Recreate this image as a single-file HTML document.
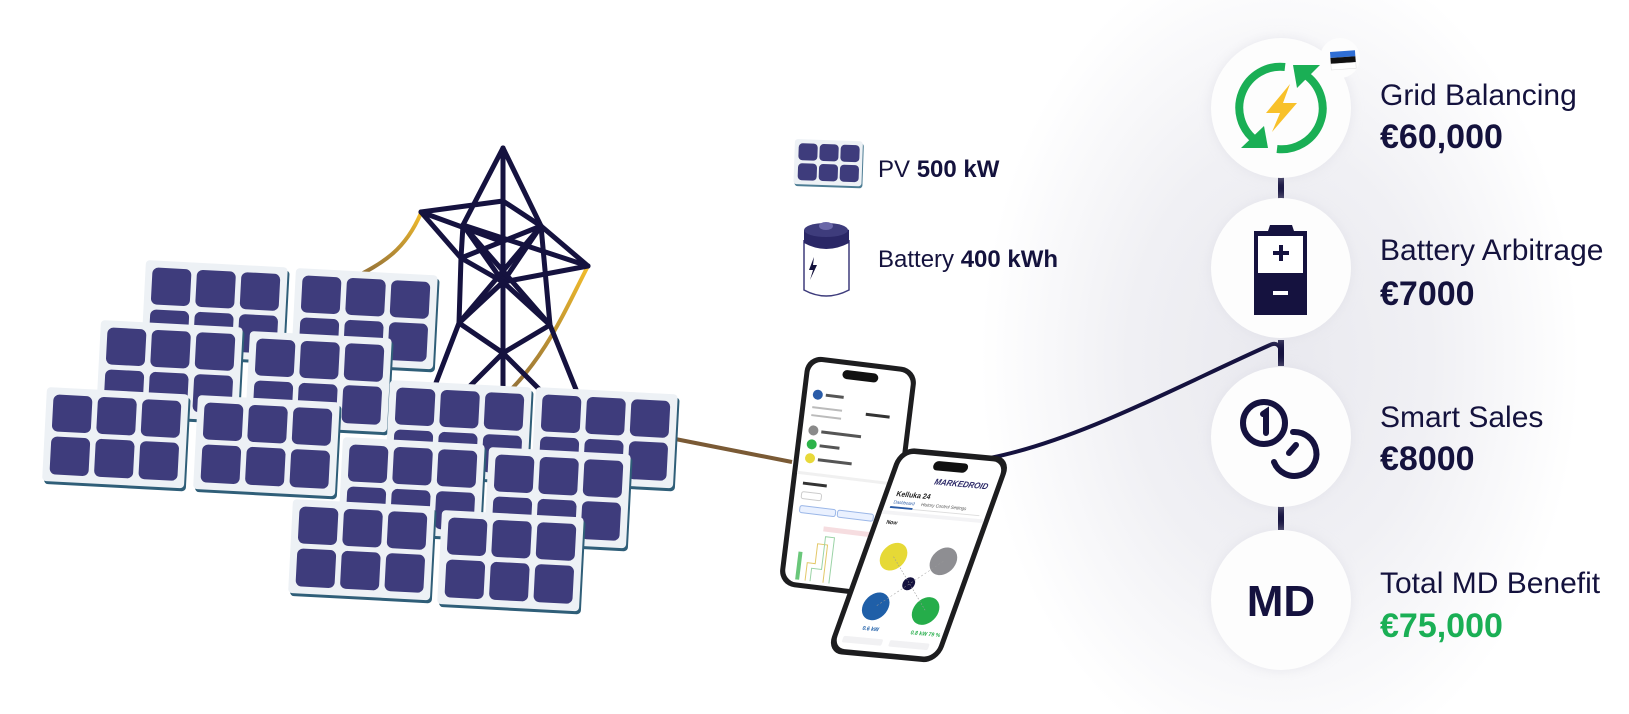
<!DOCTYPE html>
<html><head><meta charset="utf-8"><style>
html,body{margin:0;padding:0;background:#fff;}
body{width:1629px;height:714px;overflow:hidden;position:relative;font-family:"Liberation Sans",sans-serif;}
svg{position:absolute;left:0;top:0;}
</style></head><body>
<svg width="1629" height="714" viewBox="0 0 1629 714" xmlns="http://www.w3.org/2000/svg">
<defs>
<radialGradient id="glow" cx="1280" cy="360" r="300" gradientUnits="userSpaceOnUse" gradientTransform="translate(1280 360) scale(1 1.4) translate(-1280 -360)">
<stop offset="0" stop-color="#e9e9ef"/><stop offset="0.5" stop-color="#f0f0f4"/><stop offset="1" stop-color="#ffffff"/>
</radialGradient>
<linearGradient id="gold" x1="0" y1="0" x2="0" y2="1"><stop offset="0" stop-color="#f3bd2b"/><stop offset="1" stop-color="#8c6b3a"/></linearGradient>
<filter id="sh" x="-30%" y="-30%" width="160%" height="160%"><feGaussianBlur stdDeviation="6"/></filter>
<g id="panel">
<rect x="2" y="3" width="142" height="94" rx="4" fill="#2f5e78"/>
<rect x="0" y="0" width="142" height="94" rx="4" fill="#edf1f5"/>
<rect x="7" y="7" width="39" height="37" rx="6" fill="#3e3c7c"/>
<rect x="51.5" y="7" width="39" height="37" rx="6" fill="#3e3c7c"/>
<rect x="96" y="7" width="39" height="37" rx="6" fill="#3e3c7c"/>
<rect x="7" y="49" width="39" height="38" rx="6" fill="#3e3c7c"/>
<rect x="51.5" y="49" width="39" height="38" rx="6" fill="#3e3c7c"/>
<rect x="96" y="49" width="39" height="38" rx="6" fill="#3e3c7c"/>
</g>
</defs>

<rect x="900" y="0" width="729" height="714" fill="url(#glow)"/>

<!-- wires -->
<path d="M421 213 C405 250 385 262 350 280" stroke="url(#gold)" stroke-width="4" fill="none"/>
<path d="M588 266 C565 310 545 360 500 400" stroke="url(#gold)" stroke-width="4" fill="none"/>
<path d="M660 436 L792 462" stroke="#7a5a35" stroke-width="4" fill="none"/>
<path d="M990 458 C1080 440 1180 385 1270 345 C1276 342 1280 345 1281 352" stroke="#15123f" stroke-width="4" fill="none"/>

<!-- tower -->
<g stroke="#15123f" stroke-width="5" fill="none" stroke-linejoin="round" stroke-linecap="round">
<path d="M503 148 L463 225 L461 258 L459 323 L434 388"/>
<path d="M503 148 L541 226 L550 325 L577 392"/>
<path d="M503 148 L503 392"/>
<path d="M421 212 L503 201 L541 226 L588 266"/>
<path d="M421 212 L461 258"/>
<path d="M421 212 L503 242"/>
<path d="M463 225 L503 282 L541 226"/>
<path d="M461 258 L541 226"/>
<path d="M463 225 L588 266"/>
<path d="M461 258 L503 282 L588 266"/>
<path d="M459 323 L503 282 L550 325"/>
<path d="M541 226 L459 323"/>
<path d="M463 225 L550 325"/>
<path d="M459 323 L503 353 L550 325"/>
<path d="M503 353 L466 390"/>
<path d="M503 353 L542 392"/>
</g>

<!-- panels -->
<use href="#panel" transform="translate(146 260) rotate(3)"/>
<use href="#panel" transform="translate(296 268) rotate(3)"/>
<use href="#panel" transform="translate(101 320) rotate(3)"/>
<use href="#panel" transform="translate(250 331) rotate(3)"/>
<use href="#panel" transform="translate(47 387) rotate(3)"/>
<use href="#panel" transform="translate(198 395) rotate(3)"/>
<use href="#panel" transform="translate(390 380) rotate(3)"/>
<use href="#panel" transform="translate(536 387) rotate(3)"/>
<use href="#panel" transform="translate(343 437) rotate(3)"/>
<use href="#panel" transform="translate(489 447) rotate(3)"/>
<use href="#panel" transform="translate(293 499) rotate(3)"/>
<use href="#panel" transform="translate(442 510) rotate(3)"/>

<!-- PV / Battery legend -->
<g transform="translate(795 139) rotate(2)">
<rect x="1" y="2" width="68" height="45" rx="3" fill="#4d7d94"/>
<rect x="0" y="0" width="68" height="45" rx="3" fill="#edf1f5"/>
<rect x="4" y="4" width="19" height="17" rx="4" fill="#3e3c7c"/><rect x="25" y="4" width="19" height="17" rx="4" fill="#3e3c7c"/><rect x="46" y="4" width="19" height="17" rx="4" fill="#3e3c7c"/>
<rect x="4" y="24" width="19" height="17" rx="4" fill="#3e3c7c"/><rect x="25" y="24" width="19" height="17" rx="4" fill="#3e3c7c"/><rect x="46" y="24" width="19" height="17" rx="4" fill="#3e3c7c"/>
</g>
<text x="878" y="177" font-size="24" fill="#14123d" font-family="Liberation Sans, sans-serif">PV <tspan font-weight="bold">500 kW</tspan></text>
<g>
<path d="M804 240 L804 290 Q826 302 849 290 L849 240" fill="#fff" stroke="#3e3c7c" stroke-width="1.5"/>
<path d="M804 230 Q826 218 849 230 L849 243 Q826 255 804 243 Z" fill="#2a2766"/>
<ellipse cx="826" cy="230" rx="22" ry="7" fill="#3e3c7c"/>
<ellipse cx="826" cy="226" rx="7" ry="4" fill="#6a67a8"/>
<path d="M814 257 L809 270 L813 270 L810 280 L817 265 L813 265 Z" fill="#14123d"/>
</g>
<text x="878" y="267" font-size="24" fill="#14123d" font-family="Liberation Sans, sans-serif">Battery <tspan font-weight="bold">400 kWh</tspan></text>

<!-- back phone -->
<g transform="translate(848 477) rotate(7)">
<rect x="-56" y="-116" width="112" height="232" rx="16" fill="#1d1d1f"/>
<rect x="-51" y="-111" width="102" height="222" rx="12" fill="#fff"/>
<rect x="-18" y="-106" width="36" height="9" rx="4.5" fill="#111"/>
<circle cx="-40" cy="-78" r="5" fill="#2a5ca8"/><rect x="-32" y="-80" width="18" height="3" fill="#555"/>
<rect x="-44" y="-66" width="30" height="2" fill="#bbb"/><rect x="10" y="-66" width="24" height="3" fill="#333"/>
<rect x="-44" y="-58" width="30" height="2" fill="#bbb"/>
<circle cx="-40" cy="-42" r="5" fill="#8a8a8a"/><rect x="-32" y="-43" width="40" height="3" fill="#555"/>
<circle cx="-40" cy="-28" r="5" fill="#2db34a"/><rect x="-32" y="-29" width="20" height="3" fill="#555"/>
<circle cx="-40" cy="-14" r="5" fill="#e8d93a"/><rect x="-32" y="-15" width="34" height="3" fill="#555"/>
<rect x="-51" y="0" width="102" height="3" fill="#f0f0f0"/>
<rect x="-44" y="10" width="24" height="3" fill="#333"/>
<rect x="-44" y="20" width="20" height="7" rx="2" fill="#fff" stroke="#ccc"/>
<rect x="-44" y="34" width="36" height="7" rx="2" fill="#eaf1ff" stroke="#9bb7e8"/>
<rect x="-6" y="34" width="36" height="7" rx="2" fill="#eaf1ff" stroke="#9bb7e8"/>
<rect x="-18" y="52" width="60" height="5" fill="#f6dde0"/>
<rect x="-40" y="80" width="4" height="28" fill="#6ac77a"/>
<path d="M-30 108 L-30 90 L-22 90 L-22 70 L-12 70 L-12 108" stroke="#e3c868" fill="none"/>
<path d="M-25 108 L-25 95 L-15 95 L-15 62 L-6 62 L-6 108" stroke="#9bd3a6" fill="none"/>
</g>

<!-- front phone (skewed) -->
<g transform="matrix(0.86 0.08 -0.33 0.92 900 447)">
<g transform="translate(65 112)">
<rect x="-65" y="-112" width="130" height="224" rx="18" fill="#1d1d1f"/>
<rect x="-59" y="-106" width="118" height="212" rx="13" fill="#fff"/>
<rect x="-20" y="-101" width="40" height="10" rx="5" fill="#111"/>
<text x="50" y="-76" font-size="9" font-weight="bold" fill="#2a2766" text-anchor="end" font-style="italic">MARKEDROID</text>
<text x="-50" y="-60" font-size="8" font-weight="bold" fill="#222">Kelluka 24</text>
<rect x="-52" y="-48" width="104" height="1" fill="#ddd"/>
<rect x="-52" y="-49" width="26" height="2" fill="#2a5ca8"/>
<text x="-50" y="-52" font-size="5" fill="#2a5ca8">Dashboard</text>
<text x="-18" y="-52" font-size="5" fill="#555">History   Control   Settings</text>
<rect x="-59" y="-44" width="118" height="4" fill="#f3f3f5"/>
<text x="-50" y="-30" font-size="6" font-weight="bold" fill="#222">Now</text>
<circle cx="-28" cy="4" r="15" fill="#e6d936"/>
<circle cx="30" cy="4" r="15" fill="#8e8e92"/>
<circle cx="-28" cy="58" r="15" fill="#1f5fa8"/>
<circle cx="30" cy="58" r="15" fill="#25ad4a"/>
<circle cx="0" cy="31" r="7" fill="#15123f"/>
<path d="M-28 4 L30 58 M30 4 L-28 58" stroke="#999" stroke-width="0.6" stroke-dasharray="2 2"/>
<text x="-34" y="84" font-size="6" font-weight="bold" fill="#1f5fa8">0.6 kW</text>
<text x="22" y="84" font-size="6" font-weight="bold" fill="#25ad4a">0.8 kW  79 %</text>
<rect x="-52" y="92" width="46" height="7" rx="2" fill="#f1f1f3"/>
<rect x="2" y="92" width="46" height="7" rx="2" fill="#f1f1f3"/>
</g>
</g>

<!-- right column connectors -->
<g fill="#15123f">
<rect x="1278" y="176" width="6" height="24"/>
<rect x="1278" y="340" width="6" height="26"/>
<rect x="1278" y="506" width="6" height="24"/>
</g>

<!-- circles -->
<g>
<circle cx="1281" cy="108" r="70" fill="#dcdce4" filter="url(#sh)" opacity="0.6"/>
<circle cx="1281" cy="108" r="70" fill="#fdfdfd"/>
<circle cx="1281" cy="268" r="70" fill="#dcdce4" filter="url(#sh)" opacity="0.6"/>
<circle cx="1281" cy="268" r="70" fill="#fdfdfd"/>
<circle cx="1281" cy="437" r="70" fill="#dcdce4" filter="url(#sh)" opacity="0.6"/>
<circle cx="1281" cy="437" r="70" fill="#fdfdfd"/>
<circle cx="1281" cy="600" r="70" fill="#dcdce4" filter="url(#sh)" opacity="0.6"/>
<circle cx="1281" cy="600" r="70" fill="#fdfdfd"/>
<circle cx="1340" cy="58" r="20" fill="#fdfdfd"/>
</g>
<!-- flag -->
<g transform="translate(1330 52) rotate(-4)">
<rect x="0" y="0" width="25" height="6" fill="#2f6fd6"/>
<rect x="0" y="6" width="25" height="6" fill="#111"/>
<rect x="0" y="12" width="25" height="6" fill="#fff" stroke="#ddd" stroke-width="0.5"/>
</g>
<!-- grid icon -->
<g fill="none" stroke="#1aaf55" stroke-width="8">
<path d="M1285 67 A41 41 0 0 0 1255 140"/>
<path d="M1277 149 A41 41 0 0 0 1307 76"/>
</g>
<path d="M1241 148 L1268 148 L1264 126 Z" fill="#1aaf55"/>
<path d="M1320 65 L1293 65 L1297 88 Z" fill="#1aaf55"/>
<path d="M1290 84 L1266 113 L1280 113 L1272 132 L1297 103 L1283 103 Z" fill="#f8c12a"/>
<!-- battery icon -->
<path d="M1270 225 L1292 225 L1294 231 L1307 231 L1307 315 L1254 315 L1254 231 L1268 231 Z" fill="#15123f"/>
<rect x="1258" y="236" width="45" height="37" fill="#fff"/>
<rect x="1279" y="245" width="4" height="16" fill="#15123f"/><rect x="1273" y="251" width="16" height="4" fill="#15123f"/>
<rect x="1273" y="291" width="15" height="4" fill="#fff"/>
<!-- coins -->
<circle cx="1264" cy="423" r="21" fill="none" stroke="#15123f" stroke-width="6"/>
<path d="M1263 414 L1266 412 L1266 433" stroke="#15123f" stroke-width="6" fill="none" stroke-linecap="round"/>
<path d="M1293 432 A22 22 0 1 1 1274 462" fill="none" stroke="#15123f" stroke-width="6" stroke-linecap="round"/>
<path d="M1296 445 L1289 453" stroke="#15123f" stroke-width="6" stroke-linecap="round"/>
<!-- MD -->
<text x="1281" y="616" font-size="44" font-weight="bold" fill="#15123f" text-anchor="middle" font-family="Liberation Sans, sans-serif">MD</text>

<!-- labels -->
<g font-family="Liberation Sans, sans-serif" fill="#14123d">
<text x="1380" y="105" font-size="30">Grid Balancing</text>
<text x="1380" y="148" font-size="34" font-weight="bold">€60,000</text>
<text x="1380" y="260" font-size="30">Battery Arbitrage</text>
<text x="1380" y="305" font-size="34" font-weight="bold">€7000</text>
<text x="1380" y="427" font-size="30">Smart Sales</text>
<text x="1380" y="470" font-size="34" font-weight="bold">€8000</text>
<text x="1380" y="593" font-size="30">Total MD Benefit</text>
<text x="1380" y="637" font-size="34" font-weight="bold" fill="#1aaf55">€75,000</text>
</g>
</svg>
</body></html>
